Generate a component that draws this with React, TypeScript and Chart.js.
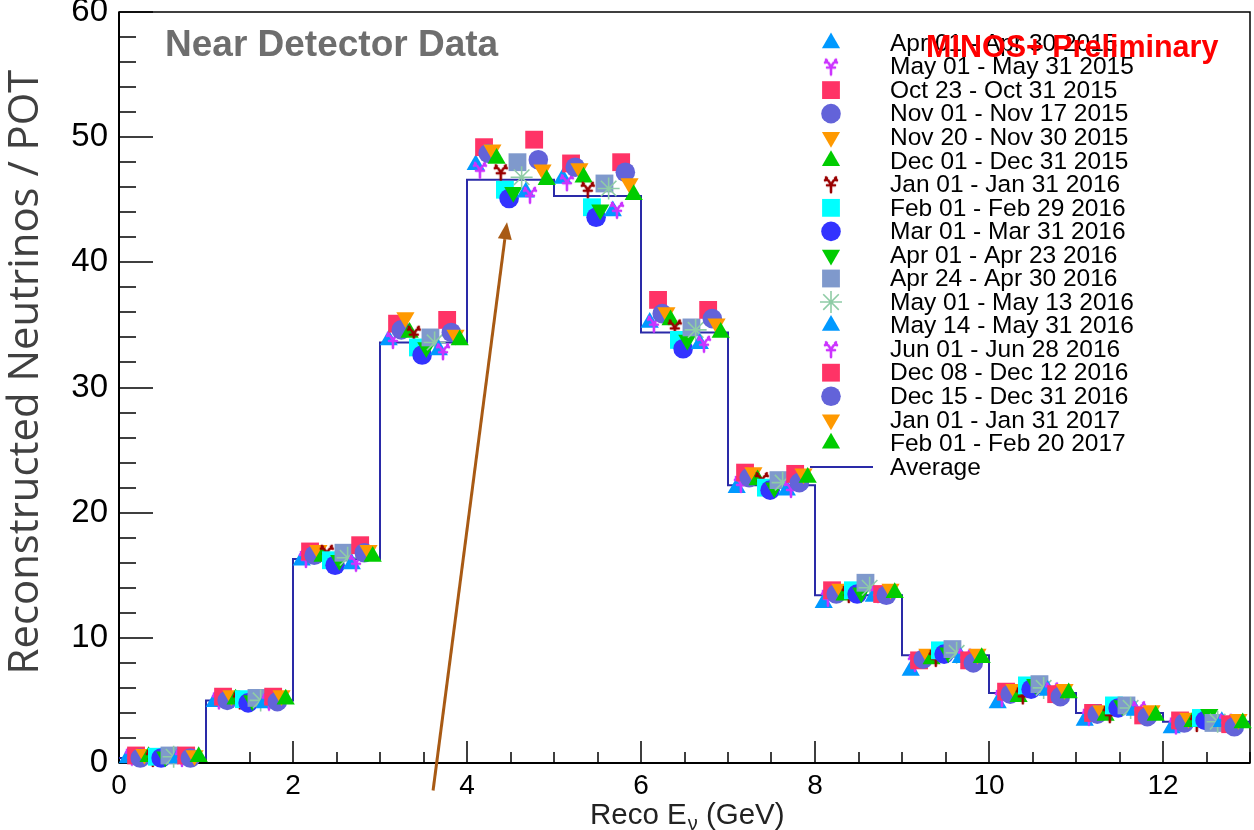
import React, { useEffect, useRef } from 'react';
import { Chart, registerables } from 'chart.js';
import { drawPoint } from 'chart.js/helpers';

Chart.register(...registerables);

// ---------------- data ----------------
const BIN_LOW = [0, 1, 2, 3, 4, 5, 6, 7, 8, 9, 10, 11, 12];
const BIN_WIDTH = 1;
const AVERAGE = [0.4, 5.0, 16.3, 33.6, 46.6, 45.3, 34.4, 22.2, 13.4, 8.6, 5.6, 4.0, 3.3];

const SERIES_LABELS = [
  'Apr 01 - Apr 30 2015',
  'May 01 - May 31 2015',
  'Oct 23 - Oct 31 2015',
  'Nov 01 - Nov 17 2015',
  'Nov 20 - Nov 30 2015',
  'Dec 01 - Dec 31 2015',
  'Jan 01 - Jan 31 2016',
  'Feb 01 - Feb 29 2016',
  'Mar 01 - Mar 31 2016',
  'Apr 01 - Apr 23 2016',
  'Apr 24 - Apr 30 2016',
  'May 01 - May 13 2016',
  'May 14 - May 31 2016',
  'Jun 01 - Jun 28 2016',
  'Dec 08 - Dec 12 2016',
  'Dec 15 - Dec 31 2016',
  'Jan 01 - Jan 31 2017',
  'Feb 01 - Feb 20 2017',
];
const AVERAGE_LABEL = 'Average';

const V_APR_2015 = [0.4, 4.9, 16.2, 33.8, 47.8, 46.7, 35.2, 22.0, 12.8, 7.4, 4.8, 3.4, 2.8];
const V_MAY_2015 = [0.5, 5.0, 16.3, 33.8, 47.4, 46.4, 35.1, 22.3, 13.2, 8.0, 5.2, 3.7, 3.0];
const V_OCT_2015 = [0.6, 5.3, 16.9, 35.1, 49.2, 47.9, 37.0, 23.2, 13.8, 8.2, 5.7, 4.0, 3.4];
const V_NOV1_2015 = [0.4, 5.0, 16.6, 34.6, 48.7, 47.6, 35.9, 22.8, 13.5, 8.3, 5.5, 3.9, 3.2];
const V_NOV2_2015 = [0.7, 5.4, 17.0, 35.6, 49.0, 47.5, 36.0, 23.2, 13.9, 8.7, 5.9, 4.2, 3.6];
const V_DEC_2015 = [0.5, 5.1, 16.5, 34.4, 48.3, 46.8, 35.4, 22.6, 13.4, 8.3, 5.3, 3.8, 3.3];
const V_JAN_2016 = [0.4, 5.0, 16.8, 34.3, 47.2, 45.8, 34.8, 22.6, 13.5, 8.4, 5.4, 3.9, 3.2];
const V_FEB_2016 = [0.5, 5.1, 16.2, 33.2, 45.8, 44.4, 33.8, 22.0, 13.8, 9.0, 6.2, 4.6, 3.6];
const V_MAR_2016 = [0.4, 4.8, 15.8, 32.6, 45.1, 43.6, 33.1, 21.8, 13.5, 8.7, 5.9, 4.4, 3.4];
const V_APR1_2016 = [0.5, 5.0, 16.2, 33.2, 45.6, 44.2, 33.8, 22.0, 13.6, 8.8, 6.3, 4.6, 3.9];
const V_APR2_2016 = [0.6, 5.2, 16.8, 34.0, 48.0, 46.3, 34.8, 22.6, 14.4, 9.1, 6.3, 4.6, 3.2];
const V_MAY1_2016 = [0.5, 5.0, 16.4, 33.6, 46.8, 45.9, 34.6, 22.4, 14.0, 8.8, 6.0, 4.4, 3.3];
const V_MAY2_2016 = [0.4, 4.8, 15.9, 33.0, 45.6, 44.1, 33.5, 21.8, 13.3, 8.4, 5.8, 4.2, 3.3];
const V_JUN_2016 = [0.4, 4.9, 16.0, 32.9, 45.4, 44.2, 33.5, 21.9, 13.5, 8.5, 5.8, 4.3, 3.3];
const V_DEC1_2016 = [0.6, 5.3, 17.4, 35.4, 49.8, 48.0, 36.2, 23.1, 13.5, 8.2, 5.5, 3.8, 3.1];
const V_DEC2_2016 = [0.4, 4.9, 16.8, 34.4, 48.2, 47.2, 35.5, 22.4, 13.4, 8.0, 5.3, 3.7, 2.9];
const V_JAN_2017 = [0.6, 5.4, 17.0, 34.2, 47.4, 46.3, 35.1, 23.1, 13.9, 8.7, 5.9, 4.2, 3.5];
const V_FEB_2017 = [0.5, 5.1, 16.5, 33.8, 46.6, 45.4, 34.4, 22.8, 13.6, 8.4, 5.6, 3.8, 3.2];

const SERIES_VALUES = [
  V_APR_2015, V_MAY_2015, V_OCT_2015, V_NOV1_2015, V_NOV2_2015, V_DEC_2015,
  V_JAN_2016, V_FEB_2016, V_MAR_2016, V_APR1_2016, V_APR2_2016, V_MAY1_2016,
  V_MAY2_2016, V_JUN_2016, V_DEC1_2016, V_DEC2_2016, V_JAN_2017, V_FEB_2017,
];

const X_MIN = 0;
const X_MAX = 13;
const Y_MIN = 0;
const Y_MAX = 60;

// annotation arrow (data coordinates)
const ARROW_FROM = { x: 3.61, y: -2.2 };
const ARROW_TO = { x: 4.46, y: 43.2 };

// ---------------- styles ----------------
const FONT = '"Liberation Sans", Arial, sans-serif';

function makeYen(color: string): HTMLCanvasElement {
  const c = document.createElement('canvas');
  c.width = 16;
  c.height = 20;
  const g = c.getContext('2d')!;
  g.strokeStyle = color;
  g.lineWidth = 2.6;
  g.lineCap = 'round';
  g.beginPath();
  g.moveTo(3, 3);
  g.lineTo(8, 10);
  g.lineTo(13, 3);
  g.moveTo(8, 10);
  g.lineTo(8, 18);
  g.moveTo(4, 11);
  g.lineTo(12, 11);
  g.moveTo(2, 6);
  g.lineTo(4, 4);
  g.moveTo(14, 6);
  g.lineTo(12, 4);
  g.stroke();
  return c;
}

type MarkerStyle = { style: any; color: string; radius: number; rotation: number; border: number };

function markerStyles(): MarkerStyle[] {
  const tri = (color: string): MarkerStyle => ({ style: 'triangle', color, radius: 10.5, rotation: 0, border: 0 });
  const dtri = (color: string): MarkerStyle => ({ style: 'triangle', color, radius: 10.5, rotation: 180, border: 0 });
  const sq = (color: string): MarkerStyle => ({ style: 'rect', color, radius: 12.6, rotation: 0, border: 0 });
  const circ = (color: string): MarkerStyle => ({ style: 'circle', color, radius: 9.8, rotation: 0, border: 0 });
  const yen = (color: string): MarkerStyle => ({ style: makeYen(color), color, radius: 9, rotation: 0, border: 0 });
  const star = (color: string): MarkerStyle => ({ style: 'star', color, radius: 11, rotation: 0, border: 1.6 });
  return [
    tri('#0099ff'),
    yen('#cc33ff'),
    sq('#ff3366'),
    circ('#6363d9'),
    dtri('#ff9900'),
    tri('#00cc00'),
    yen('#990000'),
    sq('#00ffff'),
    circ('#3333ff'),
    dtri('#00cc00'),
    sq('#7f99cc'),
    star('#8fcca6'),
    tri('#0099ff'),
    yen('#cc33ff'),
    sq('#ff3366'),
    circ('#6363d9'),
    dtri('#ff9900'),
    tri('#00cc00'),
  ];
}

const LINE_COLOR = '#2a2aa8';

export default function App() {
  const ref = useRef<HTMLCanvasElement | null>(null);

  useEffect(() => {
    const canvas = ref.current;
    if (!canvas) return;
    const markers = markerStyles();

    const datasets: any[] = SERIES_VALUES.map((vals, k) => {
      const m = markers[k];
      return {
        type: 'scatter',
        label: SERIES_LABELS[k],
        data: vals.map((v, i) => ({ x: BIN_LOW[i] + BIN_WIDTH * (0.1 + k * 0.048), y: v })),
        pointStyle: m.style,
        pointRadius: m.radius,
        pointRotation: m.rotation,
        pointBackgroundColor: m.color,
        pointBorderColor: m.color,
        pointBorderWidth: m.border,
        showLine: false,
        clip: false,
        order: 100 - k,
      };
    });

    const stepData = AVERAGE.map((v, i) => ({ x: BIN_LOW[i], y: v }));
    stepData.push({ x: BIN_LOW[BIN_LOW.length - 1] + BIN_WIDTH, y: AVERAGE[AVERAGE.length - 1] });
    datasets.push({
      type: 'line',
      label: AVERAGE_LABEL,
      data: stepData,
      stepped: 'before',
      borderColor: LINE_COLOR,
      borderWidth: 2,
      pointRadius: 0,
      fill: false,
      clip: false,
      order: 200,
    });

    const decor = {
      id: 'decor',
      beforeDatasetsDraw(chart: any) {
        const { ctx, chartArea: a, scales } = chart;
        const x = scales.x;
        const y = scales.y;
        ctx.save();
        ctx.strokeStyle = '#000';
        ctx.lineWidth = 1.5;
        ctx.strokeRect(a.left, a.top, a.right - a.left, a.bottom - a.top);
        ctx.lineWidth = 2;
        ctx.beginPath();
        ctx.moveTo(a.left, a.bottom);
        ctx.lineTo(a.right, a.bottom);
        ctx.moveTo(a.left, a.top);
        ctx.lineTo(a.left, a.bottom);
        ctx.stroke();
        ctx.lineWidth = 1.5;
        ctx.beginPath();
        for (let v = X_MIN; v <= X_MAX + 1e-9; v += 0.5) {
          const px = Math.round(x.getPixelForValue(v));
          const len = Math.abs(v % 2) < 1e-9 ? 22 : 11;
          ctx.moveTo(px, a.bottom);
          ctx.lineTo(px, a.bottom - len);
        }
        for (let v = Y_MIN; v <= Y_MAX + 1e-9; v += 2) {
          const py = Math.round(y.getPixelForValue(v));
          const len = Math.abs(v % 10) < 1e-9 ? 34 : 17;
          ctx.moveTo(a.left, py);
          ctx.lineTo(a.left + len, py);
        }
        ctx.stroke();
        ctx.restore();
      },
      afterDraw(chart: any) {
        const { ctx, chartArea: a, scales } = chart;
        const x = scales.x;
        const y = scales.y;
        ctx.save();

        // legend
        const rowY0 = a.top + 31;
        const rowStep = 23.55;
        const markX = 831;
        const textX = 890;
        ctx.font = `24.5px ${FONT}`;
        ctx.textBaseline = 'middle';
        ctx.textAlign = 'left';
        SERIES_LABELS.forEach((lab, k) => {
          const m = markers[k];
          const ry = rowY0 + k * rowStep;
          ctx.fillStyle = m.color;
          ctx.strokeStyle = m.color;
          ctx.lineWidth = m.border;
          drawPoint(ctx, { pointStyle: m.style, rotation: m.rotation, radius: m.radius, borderWidth: m.border } as any, markX, ry);
          ctx.fillStyle = '#000';
          ctx.fillText(lab, textX, ry + 1);
        });
        const avgY = rowY0 + SERIES_LABELS.length * rowStep;
        ctx.strokeStyle = LINE_COLOR;
        ctx.lineWidth = 2;
        ctx.beginPath();
        ctx.moveTo(810, avgY);
        ctx.lineTo(873, avgY);
        ctx.stroke();
        ctx.fillStyle = '#000';
        ctx.fillText(AVERAGE_LABEL, textX, avgY + 1);

        // texts
        ctx.textBaseline = 'alphabetic';
        ctx.font = `bold 37px ${FONT}`;
        ctx.fillStyle = '#6e6e6e';
        ctx.fillText('Near Detector Data', 165, 56);

        ctx.font = `bold 30.5px ${FONT}`;
        ctx.fillStyle = '#ff0000';
        ctx.fillText('MINOS+ Preliminary', 926, 57);

        // x title with subscript
        ctx.fillStyle = '#222';
        ctx.font = `29.5px ${FONT}`;
        let tx = 590;
        const base = 824;
        ctx.fillText('Reco E', tx, base);
        tx += ctx.measureText('Reco E').width;
        ctx.font = `20px ${FONT}`;
        ctx.fillText('\u03bd', tx + 1, base + 6);
        tx += ctx.measureText('\u03bd').width + 1;
        ctx.font = `29.5px ${FONT}`;
        ctx.fillText(' (GeV)', tx, base);

        // y title
        ctx.save();
        ctx.translate(26, 372);
        ctx.rotate(-Math.PI / 2);
        ctx.font = `40px "Open Sans", sans-serif`;
        const w = ctx.measureText('Reconstructed Neutrinos / POT').width;
        const size = (40 * 605) / w;
        ctx.font = `${size}px "Open Sans", sans-serif`;
        ctx.fillStyle = '#404040';
        ctx.textAlign = 'center';
        ctx.textBaseline = 'middle';
        ctx.fillText('Reconstructed Neutrinos / POT', 0, 0);
        ctx.restore();

        // arrow
        const x0 = x.getPixelForValue(ARROW_FROM.x);
        const y0 = y.getPixelForValue(ARROW_FROM.y);
        const x1 = x.getPixelForValue(ARROW_TO.x);
        const y1 = y.getPixelForValue(ARROW_TO.y);
        const ang = Math.atan2(y1 - y0, x1 - x0);
        const headLen = 17;
        const headW = 7;
        const bx = x1 - Math.cos(ang) * headLen;
        const by = y1 - Math.sin(ang) * headLen;
        ctx.strokeStyle = '#a85a14';
        ctx.fillStyle = '#a85a14';
        ctx.lineWidth = 3;
        ctx.beginPath();
        ctx.moveTo(x0, y0);
        ctx.lineTo(bx, by);
        ctx.stroke();
        ctx.beginPath();
        ctx.moveTo(x1, y1);
        ctx.lineTo(bx + Math.sin(ang) * headW, by - Math.cos(ang) * headW);
        ctx.lineTo(bx - Math.sin(ang) * headW, by + Math.cos(ang) * headW);
        ctx.closePath();
        ctx.fill();

        ctx.restore();
      },
    };

    const chart = new Chart(canvas, {
      type: 'scatter',
      data: { datasets },
      options: {
        responsive: false,
        animation: false,
        layout: { autoPadding: false, padding: { left: 0, top: 12, right: 4, bottom: 0 } },
        plugins: {
          legend: { display: false },
          tooltip: { enabled: false },
          title: { display: false },
        },
        scales: {
          x: {
            type: 'linear',
            min: X_MIN,
            max: X_MAX,
            grid: { display: false, drawTicks: false },
            border: { display: false },
            ticks: {
              stepSize: 2,
              includeBounds: false,
              padding: 6,
              color: '#000',
              font: { family: FONT, size: 28 },
              maxRotation: 0,
            },
            afterFit(scale: any) {
              scale.height = 67;
              scale.paddingLeft = 0;
              scale.paddingRight = 0;
            },
          },
          y: {
            type: 'linear',
            min: Y_MIN,
            max: Y_MAX,
            grid: { display: false, drawTicks: false },
            border: { display: false },
            ticks: {
              stepSize: 10,
              padding: 11,
              color: '#000',
              font: { family: FONT, size: 33 },
            },
            afterFit(scale: any) {
              scale.width = 119;
              scale.paddingTop = 0;
              scale.paddingBottom = 0;
            },
          },
        },
      },
      plugins: [decor],
    });

    return () => chart.destroy();
  }, []);

  return (
    <div style={{ position: 'absolute', left: 0, top: 0, width: 1254, height: 830, background: '#fff' }}>
      <canvas ref={ref} width={1254} height={830} style={{ display: 'block' }} />
    </div>
  );
}
